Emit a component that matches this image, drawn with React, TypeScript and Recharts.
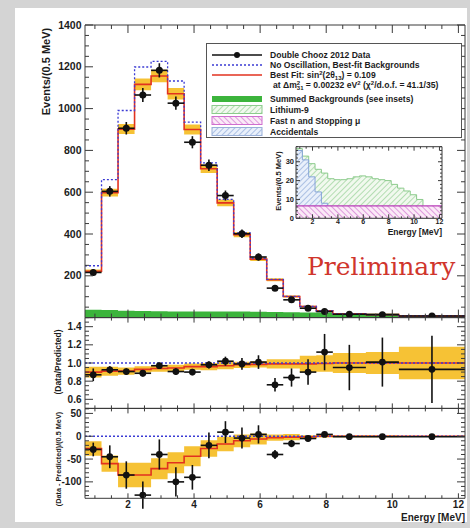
import { Area, ComposedChart, ErrorBar, Line, ReferenceLine, Scatter, XAxis, YAxis } from "recharts";

// energy bins [MeV]: 0.5 MeV wide up to 8.2, then 1, 1, 2 MeV
const binEdges = [0.7, 1.2, 1.7, 2.2, 2.7, 3.2, 3.7, 4.2, 4.7, 5.2, 5.7, 6.2, 6.7, 7.2, 7.7, 8.2, 9.2, 10.2, 12.2];

// top panel, events / 0.5 MeV
const dataEvents = [216, 604, 906, 1065, 1183, 1026, 839, 729, 584, 401, 290, 141, 85, 45, 29, 16, 14, 8];
const dataEventsErr = [15, 25, 30, 33, 34, 32, 29, 27, 24, 20, 17, 12, 9, 7, 5, 4, 4, 3];
const noOscillation = [248, 660, 991, 1199, 1226, 1132, 935, 740, 566, 405, 284, 183, 102, 54, 32, 18, 14, 8];
const bestFit = [222, 598, 902, 1116, 1156, 1071, 900, 712, 549, 397, 280, 181, 101, 53, 32, 18, 14, 8];
const bestFitErr = [8, 18, 24, 28, 30, 28, 24, 20, 16, 12, 9, 7, 5, 4, 3, 2, 2, 1];
const summedBkg = [38, 36, 33, 31, 30, 29, 29, 29, 29, 29, 28, 27, 26, 25, 24, 22, 18, 6];

// middle panel, data / no-oscillation prediction
const ratioData = [0.87, 0.925, 0.906, 0.887, 0.97, 0.906, 0.9, 0.98, 1.02, 0.99, 1.01, 0.76, 0.84, 0.9, 1.12, 0.95, 1.01, 0.93];
const ratioErr = [0.07, 0.04, 0.035, 0.035, 0.035, 0.035, 0.035, 0.04, 0.05, 0.065, 0.075, 0.075, 0.1, 0.14, 0.2, 0.25, 0.27, 0.37];
const ratioFit = [0.9, 0.91, 0.91, 0.93, 0.94, 0.945, 0.96, 0.96, 0.97, 0.98, 0.985, 0.99, 0.99, 0.99, 0.995, 1.0, 1.0, 1.0];
const ratioFitErr = [0.06, 0.05, 0.04, 0.035, 0.035, 0.035, 0.035, 0.04, 0.04, 0.035, 0.035, 0.05, 0.05, 0.09, 0.09, 0.11, 0.12, 0.18];

// bottom panel, (data - prediction) / 0.5 MeV
const diffData = [-29, -45, -85, -129, -40, -100, -90, -20, 9, -4, 4, -40, -16, -5, 4, -1, -1, -1];
const diffErr = [15, 25, 30, 30, 33, 32, 27, 28, 24, 23, 20, 10, 8, 6, 4, 3, 2, 1];
const diffFit = [-27, -60, -85, -85, -71, -58, -44, -27, -17, -10, -6, -3, -2, -1, 0, 0, 0, 0];
const diffFitErr = [16, 18, 27, 27, 23, 23, 22, 18, 16, 14, 12, 7, 7, 3, 3, 2, 2, 1];

// inset: backgrounds, events / 0.5 MeV
const insetEdges = [0.7, 1.2, 1.7, 2.2, 2.7, 3.2, 3.7, 4.2, 4.7, 5.2, 5.7, 6.2, 6.7, 7.2, 7.7, 8.2, 8.7, 9.2, 9.7, 10.2, 10.7, 11.2, 11.7, 12.2];
const lithium9 = [37, 33, 29, 26, 24, 21, 20.5, 20.5, 21, 22, 22.5, 22, 21, 20.5, 20, 18, 16, 14.5, 12.5, 10, 0, 0, 0];
const accidentals = [36, 31, 22, 14, 8, 3, 1, 0.5, 0, 0, 0, 0, 0, 0, 0, 0, 0, 0, 0, 0, 0, 0, 0];
const fastNeutrons = [6.6, 6.6, 6.6, 6.6, 6.6, 6.6, 6.6, 6.6, 6.6, 6.6, 6.6, 6.6, 6.6, 6.6, 6.6, 6.6, 6.6, 6.6, 6.6, 6.6, 6.6, 6.6, 6.6];

const energyLabels = [2, 4, 6, 8, 10, 12];
const mainLabels = [200, 400, 600, 800, 1000, 1200, 1400];
const ratioLabels = [0.6, 0.8, 1.0, 1.2, 1.4];
const diffLabels = [-100, -50, 0, 50];
const insetLabels = [0, 10, 20, 30];

const X_DOMAIN: [number, number] = [0.7, 12.2];
const FRAME = "#3a3a3a";
const TEXT = "#1c1c1c";
const FONT = "'Liberation Sans', Arial, sans-serif";
const DATA_C = "#111";
const NO_OSC_C = "#3b3bd4";
const FIT_C = "#e2321f";
const BAND_C = "#f5bf2a";
const BKG_C = "#3cb43c";

function stepTicks(from: number, to: number, step: number) {
  const out: number[] = [];
  for (let v = from; v <= to + 1e-9; v += step) out.push(Math.round(v * 1000) / 1000);
  return out;
}

// one row per bin edge, last edge repeats the last bin (for stepAfter)
function stepRows(edges: number[], series: Record<string, number[]>) {
  return edges.map((x, i) => {
    const k = Math.min(i, edges.length - 2);
    const row: any = { x };
    for (const key in series) row[key] = series[key][k];
    return row;
  });
}

function pointRows(edges: number[], vals: number[], errs: number[]) {
  return vals.map((y, i) => ({
    x: (edges[i] + edges[i + 1]) / 2,
    y,
    xErr: (edges[i + 1] - edges[i]) / 2,
    yErr: errs[i],
  }));
}

const mainRows = stepRows(binEdges, { bg: summedBkg, fit: bestFit, fitErr: bestFitErr, noOsc: noOscillation });
const mainPoints = pointRows(binEdges, dataEvents, dataEventsErr);
const ratioRows = stepRows(binEdges, { fit: ratioFit, fitErr: ratioFitErr });
const ratioPoints = pointRows(binEdges, ratioData, ratioErr);
const diffRows = stepRows(binEdges, { fit: diffFit, fitErr: diffFitErr });
const diffPoints = pointRows(binEdges, diffData, diffErr);
const insetRows = stepRows(insetEdges, { li9: lithium9, acc: accidentals, fastn: fastNeutrons });

interface TickSpec {
  majors: number[];
  labels?: number[];
  major: number;
  minor: number;
  fmt?: (v: number) => string;
  size?: number;
  gap?: number;
}

const near = (list: number[] | undefined, v: number) => !!list && list.some((m) => Math.abs(m - v) < 1e-6);

// ROOT style ticks: drawn inwards from the frame, labels outside
function tickMark(side: "bottom" | "top" | "left" | "right", spec: TickSpec) {
  return (p: any) => {
    const { x, y } = p;
    const v = p.payload.value;
    const len = near(spec.majors, v) ? spec.major : spec.minor;
    const label = near(spec.labels, v) ? (spec.fmt ? spec.fmt(v) : String(v)) : null;
    const size = spec.size ?? 10;
    const gap = spec.gap ?? 4;
    const txt = { fontFamily: FONT, fontWeight: 700, fontSize: size, fill: TEXT };
    if (side === "bottom")
      return (
        <g>
          <line x1={x} x2={x} y1={y} y2={y - len} stroke={FRAME} />
          {label && (
            <text x={x} y={y + gap} dy="0.71em" textAnchor="middle" {...txt}>
              {label}
            </text>
          )}
        </g>
      );
    if (side === "top") return <line x1={x} x2={x} y1={y} y2={y + len} stroke={FRAME} />;
    if (side === "right") return <line x1={x} x2={x - len} y1={y} y2={y} stroke={FRAME} />;
    return (
      <g>
        <line x1={x} x2={x + len} y1={y} y2={y} stroke={FRAME} />
        {label && (
          <text x={x - gap} y={y} dy="0.35em" textAnchor="end" {...txt}>
            {label}
          </text>
        )}
      </g>
    );
  };
}

function frameAxes(yDomain: [number, number], yTicks: number[], ySpec: TickSpec, xTicks: number[], xSpec: TickSpec) {
  const common = {
    type: "number" as const,
    allowDataOverflow: true,
    interval: 0 as const,
    tickLine: false,
    tickSize: 0,
    tickMargin: 0,
    axisLine: { stroke: FRAME },
  };
  return [
    <XAxis key="xb" dataKey="x" domain={X_DOMAIN} ticks={xTicks} height={1} tick={tickMark("bottom", xSpec)} {...common} />,
    <XAxis key="xt" xAxisId="top" orientation="top" dataKey="x" domain={X_DOMAIN} ticks={xTicks} height={1} tick={tickMark("top", xSpec)} {...common} />,
    <YAxis key="yl" domain={yDomain} ticks={yTicks} width={1} tick={tickMark("left", ySpec)} {...common} />,
    <YAxis key="yr" yAxisId="right" orientation="right" domain={yDomain} ticks={yTicks} width={1} tick={tickMark("right", ySpec)} {...common} />,
  ];
}

const energyTicks = stepTicks(1, 12, 0.5);
const bandKey = (r: any) => [r.fit - r.fitErr, r.fit + r.fitErr];
const dot = (r: number) => (p: any) => <circle cx={p.cx} cy={p.cy} r={r} fill={DATA_C} />;

function errorBars() {
  return [
    <ErrorBar key="ex" dataKey="xErr" direction="x" width={0} stroke={DATA_C} strokeWidth={1.6} />,
    <ErrorBar key="ey" dataKey="yErr" direction="y" width={0} stroke={DATA_C} strokeWidth={1.6} />,
  ];
}

function MainPanel() {
  return (
    <ComposedChart width={470} height={330} data={mainRows} margin={{ top: 24, right: 4, bottom: 11.4, left: 84 }}>
      {frameAxes(
        [0, 1400],
        stepTicks(0, 1400, 50),
        { majors: stepTicks(0, 1400, 200), labels: mainLabels, major: 8, minor: 4, size: 10.5, gap: 3.5 },
        energyTicks,
        { majors: energyLabels, major: 8, minor: 4 }
      )}
      <Area dataKey="bg" type="stepAfter" fill={BKG_C} fillOpacity={1} stroke="none" isAnimationActive={false} />
      <Area dataKey={bandKey} type="stepAfter" fill={BAND_C} fillOpacity={0.95} stroke="none" isAnimationActive={false} />
      <Line dataKey="fit" type="stepAfter" stroke={FIT_C} strokeWidth={1.6} dot={false} isAnimationActive={false} />
      <Line dataKey="noOsc" type="stepAfter" stroke={NO_OSC_C} strokeWidth={1.3} strokeDasharray="2 2" dot={false} isAnimationActive={false} />
      <Scatter data={mainPoints} dataKey="y" shape={dot(3.5)} isAnimationActive={false}>
        {errorBars()}
      </Scatter>
    </ComposedChart>
  );
}

function RatioPanel() {
  return (
    <ComposedChart width={470} height={120} data={ratioRows} margin={{ top: 16.6, right: 4, bottom: 10.6, left: 84 }}>
      {frameAxes(
        [0.5, 1.5],
        stepTicks(0.5, 1.5, 0.05),
        { majors: ratioLabels, labels: ratioLabels, major: 8, minor: 4, fmt: (v) => v.toFixed(1), size: 10, gap: 3.5 },
        energyTicks,
        { majors: energyLabels, major: 5, minor: 3 }
      )}
      <Area dataKey={bandKey} type="stepAfter" fill={BAND_C} fillOpacity={0.95} stroke="none" isAnimationActive={false} />
      <Line dataKey="fit" type="stepAfter" stroke={FIT_C} strokeWidth={1.6} dot={false} isAnimationActive={false} />
      <ReferenceLine y={1} stroke={NO_OSC_C} strokeWidth={1.3} strokeDasharray="2 2" />
      <Scatter data={ratioPoints} dataKey="y" shape={dot(3.4)} isAnimationActive={false}>
        {errorBars()}
      </Scatter>
    </ComposedChart>
  );
}

function DiffPanel() {
  return (
    <ComposedChart width={470} height={133} data={diffRows} margin={{ top: 12.4, right: 4, bottom: 28.7, left: 84 }}>
      {frameAxes(
        [-136, 61],
        stepTicks(-130, 60, 10),
        { majors: diffLabels, labels: diffLabels, major: 8, minor: 4, size: 10, gap: 3.5 },
        energyTicks,
        { majors: energyLabels, labels: energyLabels, major: 5, minor: 3, size: 10, gap: 3 }
      )}
      <Area dataKey={bandKey} type="stepAfter" fill={BAND_C} fillOpacity={0.95} stroke="none" isAnimationActive={false} />
      <Line dataKey="fit" type="stepAfter" stroke={FIT_C} strokeWidth={1.6} dot={false} isAnimationActive={false} />
      <ReferenceLine y={0} stroke={NO_OSC_C} strokeWidth={1.3} strokeDasharray="2 2" />
      <Scatter data={diffPoints} dataKey="y" shape={dot(3.4)} isAnimationActive={false}>
        {errorBars()}
      </Scatter>
    </ComposedChart>
  );
}

function InsetPanel() {
  return (
    <ComposedChart width={200} height={110} data={insetRows} margin={{ top: 15.7, right: 17, bottom: 20.7, left: 35 }}>
      {frameAxes(
        [0, 38],
        stepTicks(0, 38, 2),
        { majors: insetLabels, labels: insetLabels, major: 4, minor: 2, size: 7.5, gap: 2 },
        stepTicks(1, 12, 0.5),
        { majors: energyLabels, labels: energyLabels, major: 4, minor: 2, size: 7, gap: 1 }
      )}
      <Area dataKey="li9" type="stepAfter" fill="url(#hatchLi9)" fillOpacity={1} stroke="#8ccb8c" strokeWidth={1} isAnimationActive={false} />
      <Area dataKey="acc" type="stepAfter" fill="url(#hatchAcc)" fillOpacity={1} stroke="#86a4d8" strokeWidth={1} isAnimationActive={false} />
      <Area dataKey="fastn" type="stepAfter" fill="url(#hatchFast)" fillOpacity={1} stroke="#b83fb8" strokeWidth={1.2} isAnimationActive={false} />
    </ComposedChart>
  );
}

function Patterns() {
  return (
    <svg width={0} height={0} style={{ position: "absolute" }}>
      <defs>
        <pattern id="hatchLi9" width={4} height={4} patternUnits="userSpaceOnUse" patternTransform="rotate(45)">
          <rect width={4} height={4} fill="#f1f9ee" />
          <line x1={0} y1={0} x2={0} y2={4} stroke="#92cf92" strokeWidth={1.3} />
        </pattern>
        <pattern id="hatchAcc" width={4} height={4} patternUnits="userSpaceOnUse" patternTransform="rotate(45)">
          <rect width={4} height={4} fill="#e9f0fb" />
          <line x1={0} y1={0} x2={0} y2={4} stroke="#8aa6d6" strokeWidth={1.3} />
        </pattern>
        <pattern id="hatchFast" width={4} height={4} patternUnits="userSpaceOnUse" patternTransform="rotate(-45)">
          <rect width={4} height={4} fill="#fbeaf7" />
          <line x1={0} y1={0} x2={0} y2={4} stroke="#cf6fcf" strokeWidth={1.3} />
        </pattern>
      </defs>
    </svg>
  );
}

function LegendBox() {
  const txt = { fontFamily: FONT, fontWeight: 700, fontSize: 8.6, fill: TEXT };
  const small = 6;
  return (
    <svg width={257} height={96} style={{ position: "absolute", left: 206, top: 43 }}>
      <rect x={0.5} y={0.5} width={255} height={94} fill="#fff" stroke="#555" />
      <line x1={6} x2={56} y1={12} y2={12} stroke={DATA_C} strokeWidth={1.5} />
      <circle cx={31} cy={12} r={3} fill={DATA_C} />
      <text x={64} y={12} dy="0.35em" {...txt}>Double Chooz 2012 Data</text>

      <line x1={6} x2={56} y1={22} y2={22} stroke={NO_OSC_C} strokeWidth={1.3} strokeDasharray="2 2" />
      <text x={64} y={22} dy="0.35em" {...txt}>No Oscillation, Best-fit Backgrounds</text>

      <line x1={6} x2={56} y1={32} y2={32} stroke={FIT_C} strokeWidth={1.5} />
      <text x={64} y={32} dy="0.35em" {...txt}>
        Best Fit: sin<tspan dy={-3} fontSize={small}>2</tspan>
        <tspan dy={3}>(2θ</tspan>
        <tspan dy={2} fontSize={small}>13</tspan>
        <tspan dy={-2}>) = 0.109</tspan>
      </text>

      <text x={67} y={42} dy="0.35em" {...txt}>
        at Δm<tspan dy={-3} fontSize={small}>2</tspan>
        <tspan dx={-3.4} dy={5} fontSize={small}>31</tspan>
        <tspan dy={-2}> = 0.00232 eV</tspan>
        <tspan dy={-3} fontSize={small}>2</tspan>
        <tspan dy={3}>{"  (χ"}</tspan>
        <tspan dy={-3} fontSize={small}>2</tspan>
        <tspan dy={3}>/d.o.f. = 41.1/35)</tspan>
      </text>

      <rect x={6} y={53} width={50} height={6} fill={BKG_C} />
      <text x={64} y={56} dy="0.35em" {...txt}>Summed Backgrounds (see insets)</text>

      <rect x={6} y={62.5} width={50} height={8} fill="url(#hatchLi9)" stroke="#8ccb8c" />
      <text x={64} y={67} dy="0.35em" {...txt}>Lithium-9</text>

      <rect x={6} y={73.5} width={50} height={8} fill="url(#hatchFast)" stroke="#cf6fcf" />
      <text x={64} y={77.5} dy="0.35em" {...txt}>Fast n and Stopping μ</text>

      <rect x={6} y={84.5} width={50} height={8} fill="url(#hatchAcc)" stroke="#9ab0d8" />
      <text x={64} y={89} dy="0.35em" {...txt}>Accidentals</text>
    </svg>
  );
}

function Titles() {
  const bold = { fontFamily: FONT, fontWeight: 700, fill: TEXT };
  return (
    <svg width={470} height={528} style={{ position: "absolute", left: 0, top: 0, pointerEvents: "none" }}>
      <text x={46.5} y={71.5} dy="0.35em" textAnchor="middle" fontSize={11} transform="rotate(-90 46.5 71.5)" {...bold}>
        Events/(0.5 MeV)
      </text>
      <text x={58} y={362} dy="0.35em" textAnchor="middle" fontSize={8.5} transform="rotate(-90 58 362)" {...bold}>
        (Data/Predicted)
      </text>
      <text x={58} y={459} dy="0.35em" textAnchor="middle" fontSize={7.3} transform="rotate(-90 58 459)" {...bold}>
        (Data - Predicted)/(0.5 MeV)
      </text>
      <text x={465} y={517} dy="0.35em" textAnchor="end" fontSize={10} {...bold}>
        Energy [MeV]
      </text>
      <text x={442} y={232} dy="0.35em" textAnchor="end" fontSize={8.5} {...bold}>
        Energy [MeV]
      </text>
      <text x={278.5} y={181} dy="0.35em" textAnchor="middle" fontSize={7.5} transform="rotate(-90 278.5 181)" {...bold}>
        Events/(0.5 MeV)
      </text>
      <text x={307} y={275} fontFamily="'DejaVu Serif', serif" fontSize={25} fill="#d0352c">
        Preliminary
      </text>
    </svg>
  );
}

export default function App() {
  return (
    <div style={{ position: "absolute", left: 0, top: 0, width: 470, height: 528, background: "#d4d4d4", overflow: "hidden" }}>
      <div style={{ position: "absolute", left: 15, top: 8, width: 452, height: 514, background: "#fff" }} />
      <Patterns />
      <div style={{ position: "absolute", left: 0, top: 0 }}>
        <MainPanel />
      </div>
      <div style={{ position: "absolute", left: 0, top: 300 }}>
        <RatioPanel />
      </div>
      <div style={{ position: "absolute", left: 0, top: 395 }}>
        <DiffPanel />
      </div>
      <div style={{ position: "absolute", left: 260, top: 130 }}>
        <InsetPanel />
      </div>
      <LegendBox />
      <Titles />
    </div>
  );
}
